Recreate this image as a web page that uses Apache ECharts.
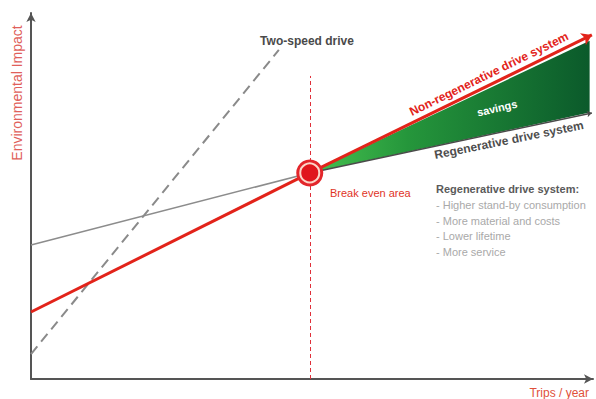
<!DOCTYPE html>
<html>
<head>
<meta charset="utf-8">
<script src="https://cdn.jsdelivr.net/npm/echarts@6/dist/echarts.min.js"></script>
<style>
html, body { margin: 0; padding: 0; background: #fff; }
#chart { width: 596px; height: 399px; }
</style>
</head>
<body>
<div id="chart"></div>
<script>
// x: trips / year, y: environmental impact, both on a 0..100 scale
const breakEven = [49.6, 56.3];
const nonRegenerative = [[0, 18.3], breakEven, [99.8, 94.0]];
const regenerative = [[0, 36.6], breakEven, [99.8, 72.7]];
const twoSpeed = [[0, 6.8], [44.1, 89.9]];
const breakEvenLine = [[49.6, 0], [49.6, 82.8]];
const savingsArea = [breakEven, [99.4, 92.4], [99.4, 72.8]];
const regenNotes = ['- Higher stand-by consumption', '- More material and costs', '- Lower lifetime', '- More service'];

const FONT = "'Liberation Sans', Arial, sans-serif";
const RED = '#e2231a';

var chart = echarts.init(document.getElementById('chart'), null, { renderer: 'svg' });

function seg(a, b) {
    return [{ coords: [a, b] }];
}

function txt(text, x, y, font, fill, extra, align) {
    return Object.assign({
        type: 'text',
        x: x,
        y: y,
        z: 100,
        style: { text: text, font: font + ' ' + FONT, fill: fill, align: align || 'center', verticalAlign: 'middle' }
    }, extra || {});
}

var notes = regenNotes.map(function (t, i) {
    return txt(t, 436, 205 + i * 15.5, '11px', '#a9a9a9', null, 'left');
});

var option = {
    animation: false,
    grid: { left: 31, top: 13, width: 562, height: 366 },
    xAxis: {
        type: 'value', min: 0, max: 100,
        axisLine: { show: true, symbol: ['none', 'arrow'], symbolSize: [7, 9], lineStyle: { color: '#555', width: 2 } },
        axisTick: { show: false }, axisLabel: { show: false }, splitLine: { show: false }
    },
    yAxis: {
        type: 'value', min: 0, max: 100,
        axisLine: { show: true, symbol: ['none', 'arrow'], symbolSize: [7, 9], lineStyle: { color: '#555', width: 2 } },
        axisTick: { show: false }, axisLabel: { show: false }, splitLine: { show: false }
    },
    series: [
        {
            // savings wedge between the two drive systems
            type: 'custom',
            z: 1,
            data: [0],
            renderItem: function (params, api) {
                var pts = savingsArea.map(function (p) { return api.coord(p); });
                return {
                    type: 'polygon',
                    shape: { points: pts },
                    style: {
                        fill: {
                            type: 'linear', x: 0, y: 0, x2: 1, y2: 0,
                            colorStops: [
                                { offset: 0, color: '#46c250' },
                                { offset: 0.35, color: '#25963b' },
                                { offset: 1, color: '#0b5a2b' }
                            ]
                        }
                    }
                };
            }
        },
        {
            type: 'lines', coordinateSystem: 'cartesian2d', z: 2,
            lineStyle: { color: '#8c8c8c', width: 1.5, opacity: 1 },
            data: seg(regenerative[0], regenerative[1])
        },
        {
            type: 'lines', coordinateSystem: 'cartesian2d', z: 2,
            symbol: ['none', 'arrow'], symbolSize: 5,
            lineStyle: { color: '#4a4a4a', width: 1.5, opacity: 1 },
            data: seg(regenerative[1], regenerative[2])
        },
        {
            type: 'lines', coordinateSystem: 'cartesian2d', z: 2,
            lineStyle: { color: '#8a8a8a', width: 2, type: [10, 6], opacity: 1 },
            data: seg(twoSpeed[0], twoSpeed[1])
        },
        {
            type: 'lines', coordinateSystem: 'cartesian2d', z: 2,
            lineStyle: { color: '#e0303a', width: 1, type: [4, 3], opacity: 1 },
            data: seg(breakEvenLine[0], breakEvenLine[1])
        },
        {
            type: 'lines', coordinateSystem: 'cartesian2d', z: 3,
            lineStyle: { color: RED, width: 3, opacity: 1 },
            data: seg(nonRegenerative[0], nonRegenerative[1])
        },
        {
            type: 'lines', coordinateSystem: 'cartesian2d', z: 3,
            symbol: ['none', 'arrow'], symbolSize: 10,
            lineStyle: { color: RED, width: 3, opacity: 1 },
            data: seg(nonRegenerative[1], nonRegenerative[2])
        },
        {
            type: 'scatter', z: 4, symbolSize: 27,
            itemStyle: { color: '#e3262b', opacity: 1 },
            data: [breakEven]
        },
        {
            type: 'scatter', z: 5, symbolSize: 19,
            itemStyle: { color: '#e0161c', borderColor: '#fcd6c8', borderWidth: 2, opacity: 1 },
            data: [breakEven]
        }
    ],
    graphic: [
        txt('Two-speed drive', 307, 41, 'bold 12px', '#4a4a4a'),
        txt('Non-regenerative drive system', 489, 74, 'bold 12px', RED, { rotation: 0.455 }),
        txt('savings', 497, 108, 'bold 11px', '#ffffff', { rotation: 0.227 }),
        txt('Regenerative drive system', 509, 140, 'bold 12px', '#4d4d4d', { rotation: 0.2 }),
        txt('Break even area', 330, 193, '11px', '#e0341f', null, 'left'),
        txt('Regenerative drive system:', 436, 189, 'bold 11px', '#5a5a5a', null, 'left'),
        txt('Trips / year', 589, 393, '12px', '#e0503a', null, 'right'),
        txt('Environmental Impact', 17, 93, '14px', '#e0605a', { rotation: Math.PI / 2 })
    ].concat(notes)
};

chart.setOption(option);
</script>
</body>
</html>
